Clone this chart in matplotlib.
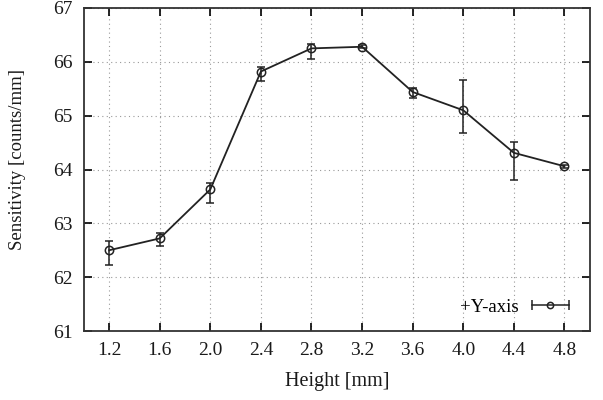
import numpy as np
import matplotlib
matplotlib.use("Agg")
import matplotlib.pyplot as plt
from matplotlib.lines import Line2D
from matplotlib.legend_handler import HandlerLine2D

plt.rcParams['font.family'] = ['Liberation Serif', 'DejaVu Serif']

# data
height = [1.2, 1.6, 2.0, 2.4, 2.8, 3.2, 3.6, 4.0, 4.4, 4.8]
sens = [62.50, 62.72, 63.63, 65.82, 66.25, 66.28, 65.44, 65.10, 64.31, 64.06]
err_low = [0.27, 0.14, 0.25, 0.18, 0.20, 0.03, 0.12, 0.43, 0.50, 0.03]
err_high = [0.17, 0.10, 0.12, 0.08, 0.08, 0.03, 0.08, 0.56, 0.20, 0.03]
xticks = [1.2, 1.6, 2.0, 2.4, 2.8, 3.2, 3.6, 4.0, 4.4, 4.8]
yticks = [61, 62, 63, 64, 65, 66, 67]

fig = plt.figure(figsize=(6.03, 4.0), dpi=100)
ax = fig.add_axes([0.139, 0.1725, 0.839, 0.8075])

col = '#222222'
ax.errorbar(height, sens, yerr=[err_low, err_high], color=col, lw=1.3,
            marker='o', ms=6, mfc='none', mec=col, mew=1.1,
            capsize=3, elinewidth=1.1, capthick=1.1)

ax.set_xlim(1.0, 5.0)
ax.set_ylim(61, 67)
ax.set_xticks(xticks)
ax.set_xticklabels(['{:.1f}'.format(v) for v in xticks])
ax.set_yticks(yticks)
ax.grid(True, linestyle=(0, (1, 3)), color='#999999', lw=0.8)
ax.tick_params(direction='in', top=True, right=True, length=6, width=1.2,
               labelsize=14, pad=8, labelcolor='#1a1a1a')
for s in ax.spines.values():
    s.set_linewidth(1.3)
    s.set_color('#333333')

ax.set_xlabel('Height [mm]', fontsize=14.5, labelpad=9, color='#1a1a1a')
ax.set_ylabel('Sensitivity [counts/mm]', fontsize=13.5, color='#1a1a1a')
ax.yaxis.set_label_coords(-0.115, 0.53)

# gnuplot-style legend key: horizontal bar with caps and an open circle
bar = Line2D([], [], color=col, lw=1.1, marker='|', ms=7, mew=1.1)
dot = Line2D([], [], ls='none', marker='o', ms=4.5, mfc='none', mec=col, mew=1.1)
ax.legend([(bar, dot)], ['+Y-axis'], loc='lower right', frameon=False,
          markerfirst=False, fontsize=13.5, handlelength=2.6,
          handletextpad=0.4, borderaxespad=0.4,
          handler_map={bar: HandlerLine2D(numpoints=2),
                       dot: HandlerLine2D(numpoints=1)})

fig.savefig('out.png', dpi=100)
